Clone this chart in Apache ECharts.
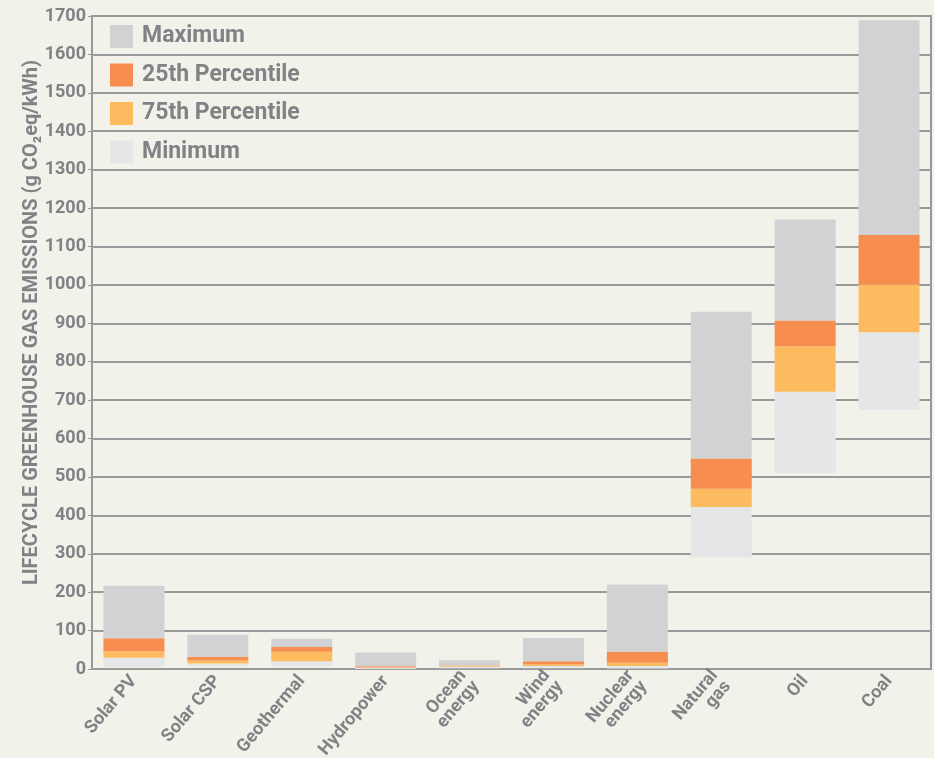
<!DOCTYPE html>
<html>
<head>
<meta charset="utf-8">
<title>Lifecycle GHG emissions</title>
<script src="https://cdn.jsdelivr.net/npm/echarts@6/dist/echarts.min.js"></script>
<style>
  html, body {
    margin: 0;
    padding: 0;
    background: #f3f2ea;
  }
  #chart {
    width: 934px;
    height: 758px;
  }
</style>
</head>
<body>
<div id="chart"></div>
<script>
// technologies on the x axis
const categories = [
  "Solar PV", "Solar CSP", "Geothermal", "Hydropower", "Ocean\nenergy",
  "Wind\nenergy", "Nuclear\nenergy", "Natural\ngas", "Oil", "Coal"
];

// g CO2eq/kWh
const minimum = [5, 7, 6, 0, 2, 2, 1, 290, 510, 675];
const p25 = [29, 14, 20, 3, 6, 8, 8, 422, 722, 877];
const median = [46, 22, 45, 4, 8, 12, 16, 469, 840, 1001];
const p75 = [80, 32, 57, 7, 9, 20, 45, 548, 907, 1130];
const maximum = [217, 89, 79, 43, 23, 81, 220, 930, 1170, 1689];

const yTicks = { min: 0, max: 1700, step: 100 };

const textGray = "#808285";

// the original uses a condensed face; take the narrowest one that is installed
function pickFont() {
  const ctx = document.createElement("canvas").getContext("2d");
  const sample = "LIFECYCLE GREENHOUSE 1700 Percentile";
  const tries = [
    { style: "normal", family: "'Liberation Sans Narrow', sans-serif" },
    { style: "condensed", family: "'Liberation Sans', sans-serif" },
    { style: "condensed", family: "'DejaVu Sans', sans-serif" },
    { style: "normal", family: "'DejaVu Sans Condensed', sans-serif" },
    { style: "condensed", family: "'Noto Sans', sans-serif" },
    { style: "normal", family: "Roboto, sans-serif" },
  ];
  let best = tries[tries.length - 1];
  let bestW = Infinity;
  tries.forEach((t) => {
    ctx.font = "10px monospace";
    const f = (t.style === "normal" ? "" : t.style + " ") + "bold 20px " + t.family;
    ctx.font = f;
    if (ctx.font === "10px monospace") return; // not accepted
    const w = ctx.measureText(sample).width;
    if (w < bestW - 0.5) {
      bestW = w;
      best = t;
    }
  });
  return best;
}
const font = pickFont();

const txt = (size) => ({
  fontSize: size,
  fontWeight: "bold",
  fontStyle: font.style,
  fontFamily: font.family,
  color: textGray,
});

// segment heights for the floating stacks
const diff = (hi, lo) => hi.map((v, i) => v - lo[i]);

const chart = echarts.init(document.getElementById("chart"));

const seg = (name, data, color) => ({
  name: name,
  type: "bar",
  stack: "range",
  barWidth: 61,
  data: data,
  itemStyle: { color: color },
  emphasis: { disabled: true },
});

chart.setOption({
  backgroundColor: "#f3f2ea",
  animation: false,
  grid: {
    left: 92,
    right: 3,
    top: 16,
    bottom: 89,
    outerBoundsMode: "none",
    containLabel: false,
    show: true,
    borderColor: "#999999",
    borderWidth: 2,
  },
  legend: {
    orient: "vertical",
    left: 105,
    top: 20,
    itemWidth: 23,
    itemHeight: 23,
    itemGap: 15.5,
    icon: "rect",
    data: ["Maximum", "25th Percentile", "75th Percentile", "Minimum"],
    textStyle: Object.assign(txt(23), { padding: [0, 0, 0, 4] }),
  },
  xAxis: {
    type: "category",
    data: categories,
    axisLine: { lineStyle: { color: "#999999", width: 2 } },
    axisTick: {
      alignWithLabel: true,
      length: 12,
      lineStyle: { color: "#333333", width: 1 },
    },
    axisLabel: Object.assign(txt(18), {
      rotate: 50,
      margin: 9,
      lineHeight: 17,
      hideOverlap: false,
    }),
  },
  yAxis: {
    type: "value",
    min: yTicks.min,
    max: yTicks.max,
    interval: yTicks.step,
    name: "LIFECYCLE GREENHOUSE GAS EMISSIONS (g CO₂eq/kWh)",
    nameLocation: "middle",
    nameGap: 50,
    nameMoveOverlap: false,
    nameTextStyle: Object.assign(txt(20), { padding: [0, 0, 0, 40] }),
    axisLine: { show: true, lineStyle: { color: "#999999", width: 2 } },
    axisTick: { show: true, length: 4, lineStyle: { color: "#999999" } },
    axisLabel: Object.assign(txt(18), {
      margin: 6,
      formatter: (v) => String(v),
    }),
    splitLine: { lineStyle: { color: "#999999", width: 2 } },
  },
  series: [
    {
      name: "base",
      type: "bar",
      stack: "range",
      barWidth: 61,
      data: minimum,
      itemStyle: { color: "transparent" },
      emphasis: { disabled: true },
    },
    seg("Minimum", diff(p25, minimum), "#e5e6e7"),
    seg("75th Percentile", diff(median, p25), "#fdbb5f"),
    seg("25th Percentile", diff(p75, median), "#f78d4f"),
    seg("Maximum", diff(maximum, p75), "#d1d2d4"),
  ],
});
</script>
</body>
</html>
